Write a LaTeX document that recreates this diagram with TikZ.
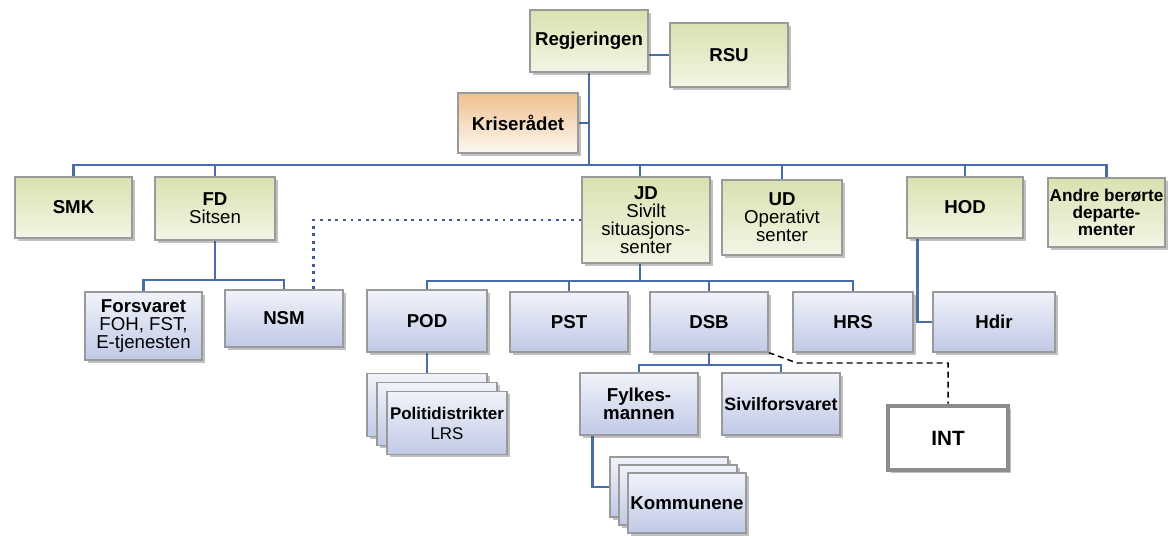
\documentclass[tikz,border=0pt]{standalone}
\usepackage{fontspec}
\setmainfont{Liberation Sans}
\usetikzlibrary{shadows}
\definecolor{conncol}{HTML}{4A6DAA}
\definecolor{dotcol}{HTML}{3F5A9E}
\definecolor{gtop}{HTML}{D8E2B0}
\definecolor{gbot}{HTML}{F4F5E6}
\definecolor{btop}{HTML}{F1F3FA}
\definecolor{bbot}{HTML}{C0C9E6}
\definecolor{otop}{HTML}{F0C08E}
\definecolor{obot}{HTML}{FCF8F3}
\definecolor{boxborder}{HTML}{9A9A9A}
\pgfdeclarelayer{bg}
\pgfsetlayers{bg,main}
\begin{document}
\begin{tikzpicture}[x=0.75pt,y=-0.75pt,
  box/.style={draw=boxborder, line width=0.8pt, inner xsep=0pt, inner ysep=1pt, align=center,
    font=\fontsize{14}{13.5}\selectfont,
    drop shadow={shadow xshift=2pt, shadow yshift=-2pt, opacity=0.35, fill=black!70}},
  gbox/.style={box, top color=gtop, bottom color=gbot},
  bbox/.style={box, top color=btop, bottom color=bbot},
  obox/.style={box, top color=otop, bottom color=obot},
  sz/.style 2 args={minimum width=#1*0.75pt, minimum height=#2*0.75pt},
  conn/.style={draw=conncol, line width=2.2pt},
  dotline/.style={draw=dotcol, line width=2.2pt, dash pattern=on 2.2pt off 3.5pt},
  dashline/.style={draw=black, line width=1.1pt, dash pattern=on 4.5pt off 3pt},
  intbox/.style={draw=black!45, line width=3.5pt, fill=white, align=center,
    font=\fontsize{15.5}{15.5}\selectfont\bfseries,
    drop shadow={shadow xshift=2.5pt, shadow yshift=-2.5pt, opacity=0.35, fill=black!70}}
]
\useasboundingbox (0,0) rectangle (1169,535);

% top level
\node[gbox, sz={118}{62}] (reg) at (589,41) {\textbf{Regjeringen}};
\node[gbox, sz={118}{64}] (rsu) at (729,55) {\textbf{RSU}};
\node[obox, sz={120}{60}] (kris) at (518,123) {\textbf{Kriserådet}};

% ministries
\node[gbox, sz={117}{61}] (smk) at (73.5,207.5) {\textbf{SMK}};
\node[gbox, sz={120}{63}] (fd) at (215,208.5) {\textbf{FD}\\Sitsen};
\node[gbox, sz={128}{86}] (jd) at (646,220) {\textbf{JD}\\Sivilt\\situasjons-\\senter};
\node[gbox, sz={120}{75}] (ud) at (782,217.5) {\textbf{UD}\\Operativt\\senter};
\node[gbox, sz={116}{61}] (hod) at (965,207.5) {\textbf{HOD}};
\node[gbox, sz={117}{69}, font=\fontsize{12.9}{13}\selectfont] (andre) at (1106.5,212.5) {\textbf{Andre berørte}\\\textbf{departe-}\\\textbf{menter}};

% agencies
\node[bbox, sz={117}{68}] (forsv) at (143.5,326) {\textbf{Forsvaret}\\FOH, FST,\\E-tjenesten};
\node[bbox, sz={118}{57}] (nsm) at (284,318.5) {\textbf{NSM}};
\node[bbox, sz={120}{62}] (pod) at (427,321) {\textbf{POD}};
\node[bbox, sz={118}{60}] (pst) at (569,322) {\textbf{PST}};
\node[bbox, sz={118}{60}] (dsb) at (709,322) {\textbf{DSB}};
\node[bbox, sz={120}{60}] (hrs) at (853,322) {\textbf{HRS}};
\node[bbox, sz={122}{60}] (hdir) at (994,322) {\textbf{Hdir}};

% police districts stack
\node[bbox, sz={120}{63}] (pol3) at (427,405) {};
\node[bbox, sz={120}{63}] (pol2) at (437,414) {};
\node[bbox, sz={120}{63}, font=\fontsize{12.7}{15}\selectfont] (pol) at (447,423) {\textbf{Politidistrikter}\\LRS};

% DSB children
\node[bbox, sz={118}{62}] (fylk) at (639,404) {\textbf{Fylkes-}\\\textbf{mannen}};
\node[bbox, sz={118}{62}, font=\fontsize{13.4}{13.5}\selectfont] (sivil) at (781,404) {\textbf{Sivilforsvaret}};

% municipalities stack
\node[bbox, sz={118}{60}] (kom3) at (669,487) {};
\node[bbox, sz={118}{60}] (kom2) at (678,495) {};
\node[bbox, sz={118}{60}] (kom) at (687,503) {\textbf{Kommunene}};

% INT
\node[intbox, sz={120}{64}] (int) at (948,438) {INT};

\coordinate (b1) at (0,165);
\coordinate (b2) at (0,280);
\coordinate (b3) at (0,281);
\coordinate (b4) at (0,365);

\begin{pgfonlayer}{bg}
\fill[white] (0,0) rectangle (1169,535);
\draw[conn] (rsu.west -| reg.east) -- (rsu.west);
\draw[conn] (reg.south) -- (reg.south |- b1);
\draw[conn] (kris.east) -- (kris.east -| reg.south);
\draw[conn] (smk.north) -- (smk.north |- b1) -- (andre.north |- b1) -- (andre.north);
\draw[conn] (fd.north) -- (fd.north |- b1);
\draw[conn] ([xshift=-4.5pt]jd.north) -- ([xshift=-4.5pt]jd.north |- b1);
\draw[conn] (ud.north) -- (ud.north |- b1);
\draw[conn] (hod.north) -- (hod.north |- b1);
% FD subtree
\draw[conn] (fd.south) -- (fd.south |- b2);
\draw[conn] (forsv.north) -- (forsv.north |- b2) -- (nsm.north |- b2) -- (nsm.north);
% JD subtree
\draw[conn] ([xshift=-4.5pt]jd.south) -- ([xshift=-4.5pt]jd.south |- b3);
\draw[conn] (pod.north) -- (pod.north |- b3) -- (hrs.north |- b3) -- (hrs.north);
\draw[conn] (pst.north) -- (pst.north |- b3);
\draw[conn] (dsb.north) -- (dsb.north |- b3);
% HOD
\draw[conn] ([xshift=8.25pt]hod.south west) |- (hdir.west);
% POD
\draw[conn] (pod.south) -- (pol3.north);
% DSB
\draw[conn] (dsb.south) -- (dsb.south |- b4);
\draw[conn] (fylk.north) -- (fylk.north |- b4) -- (sivil.north |- b4) -- (sivil.north);
% Fylkesmannen
\draw[conn] ([xshift=9.75pt]fylk.south west) |- (kom3.west);
% dotted JD - NSM
\draw[dotline] (jd.west) -| ([xshift=-22.5pt]nsm.north east);
% dashed DSB - INT
\draw[dashline] (dsb.south east) -- (797,363) -| (int.north);
\end{pgfonlayer}
\end{tikzpicture}
\end{document}
